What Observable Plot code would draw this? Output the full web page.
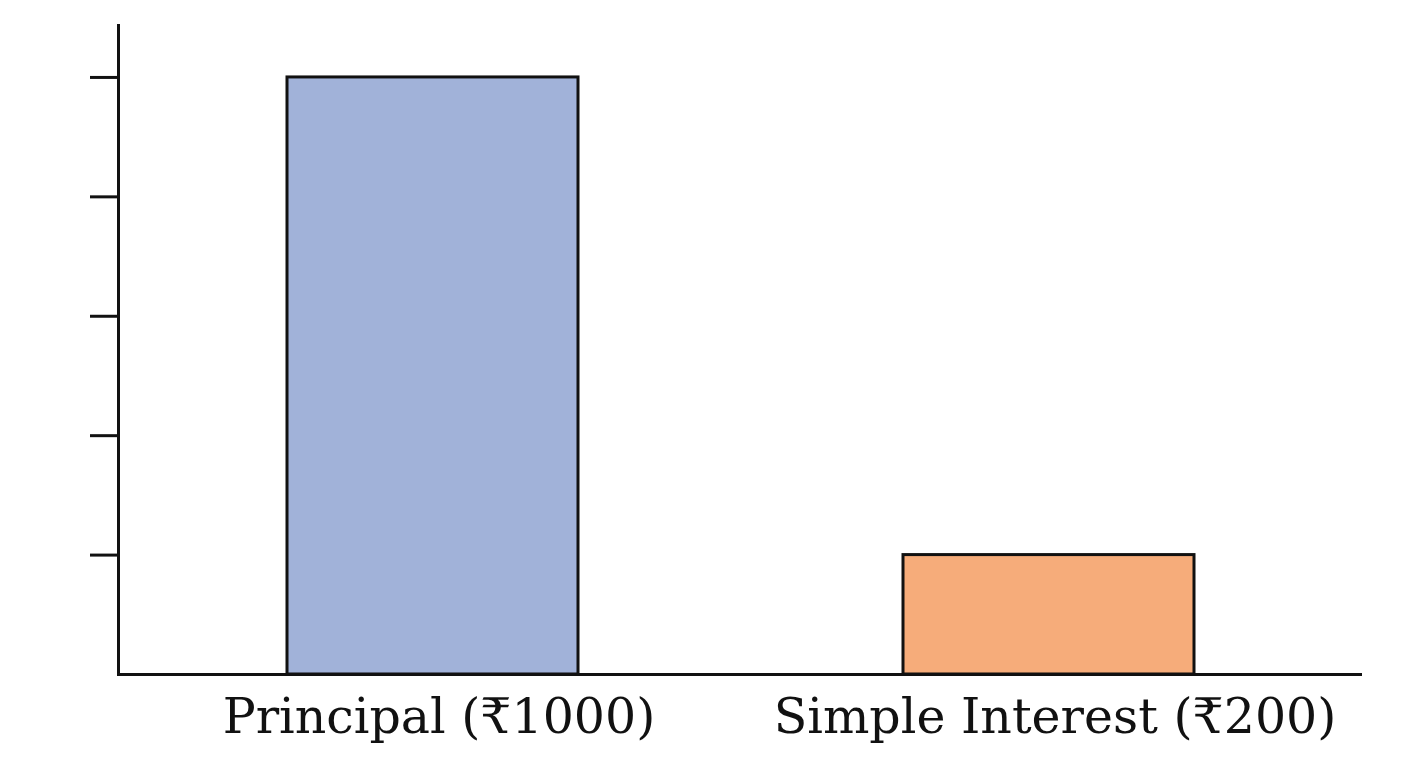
<!DOCTYPE html>
<html>
<head>
<meta charset="utf-8">
<script src="https://cdn.jsdelivr.net/npm/d3@7"></script>
<script src="https://cdn.jsdelivr.net/npm/@observablehq/plot@0.6"></script>
<style>
  html, body { margin: 0; padding: 0; background: #fff; }
</style>
</head>
<body>
<div id="chart"></div>
<script>
const categories = ["Principal (₹1000)", "Simple Interest (₹200)"];
const values = [1000, 200];
const colors = ["#a1b2d9", "#f6ac7a"];
const yTicks = [200, 400, 600, 800, 1000];

const data = categories.map((c, i) => ({category: c, value: values[i], color: colors[i]}));

const chart = Plot.plot({
  width: 1408,
  height: 768,
  marginLeft: 118,
  marginRight: 46,
  marginTop: 25,
  marginBottom: 94,
  style: {background: "#fff", fontFamily: "DejaVu Serif"},
  x: {domain: categories, paddingInner: 0.528, paddingOuter: 0.273, label: null},
  y: {domain: [0, 1087], label: null},
  marks: [
    Plot.barY(data, {x: "category", y: "value", fill: "color", stroke: "#111", strokeWidth: 3}),
    Plot.ruleY([0], {stroke: "#111", strokeWidth: 3}),
    Plot.frame({anchor: "left", stroke: "#111", strokeWidth: 3}),
    Plot.axisY({ticks: yTicks, tickSize: 28, tickFormat: () => "", stroke: "#111", strokeWidth: 3, label: null}),
    Plot.axisX({tickSize: 0, tickPadding: 24, dx: 6, fontSize: 49, fontFamily: "DejaVu Serif", fill: "#111", label: null})
  ]
});
document.getElementById("chart").appendChild(chart);
</script>
</body>
</html>
